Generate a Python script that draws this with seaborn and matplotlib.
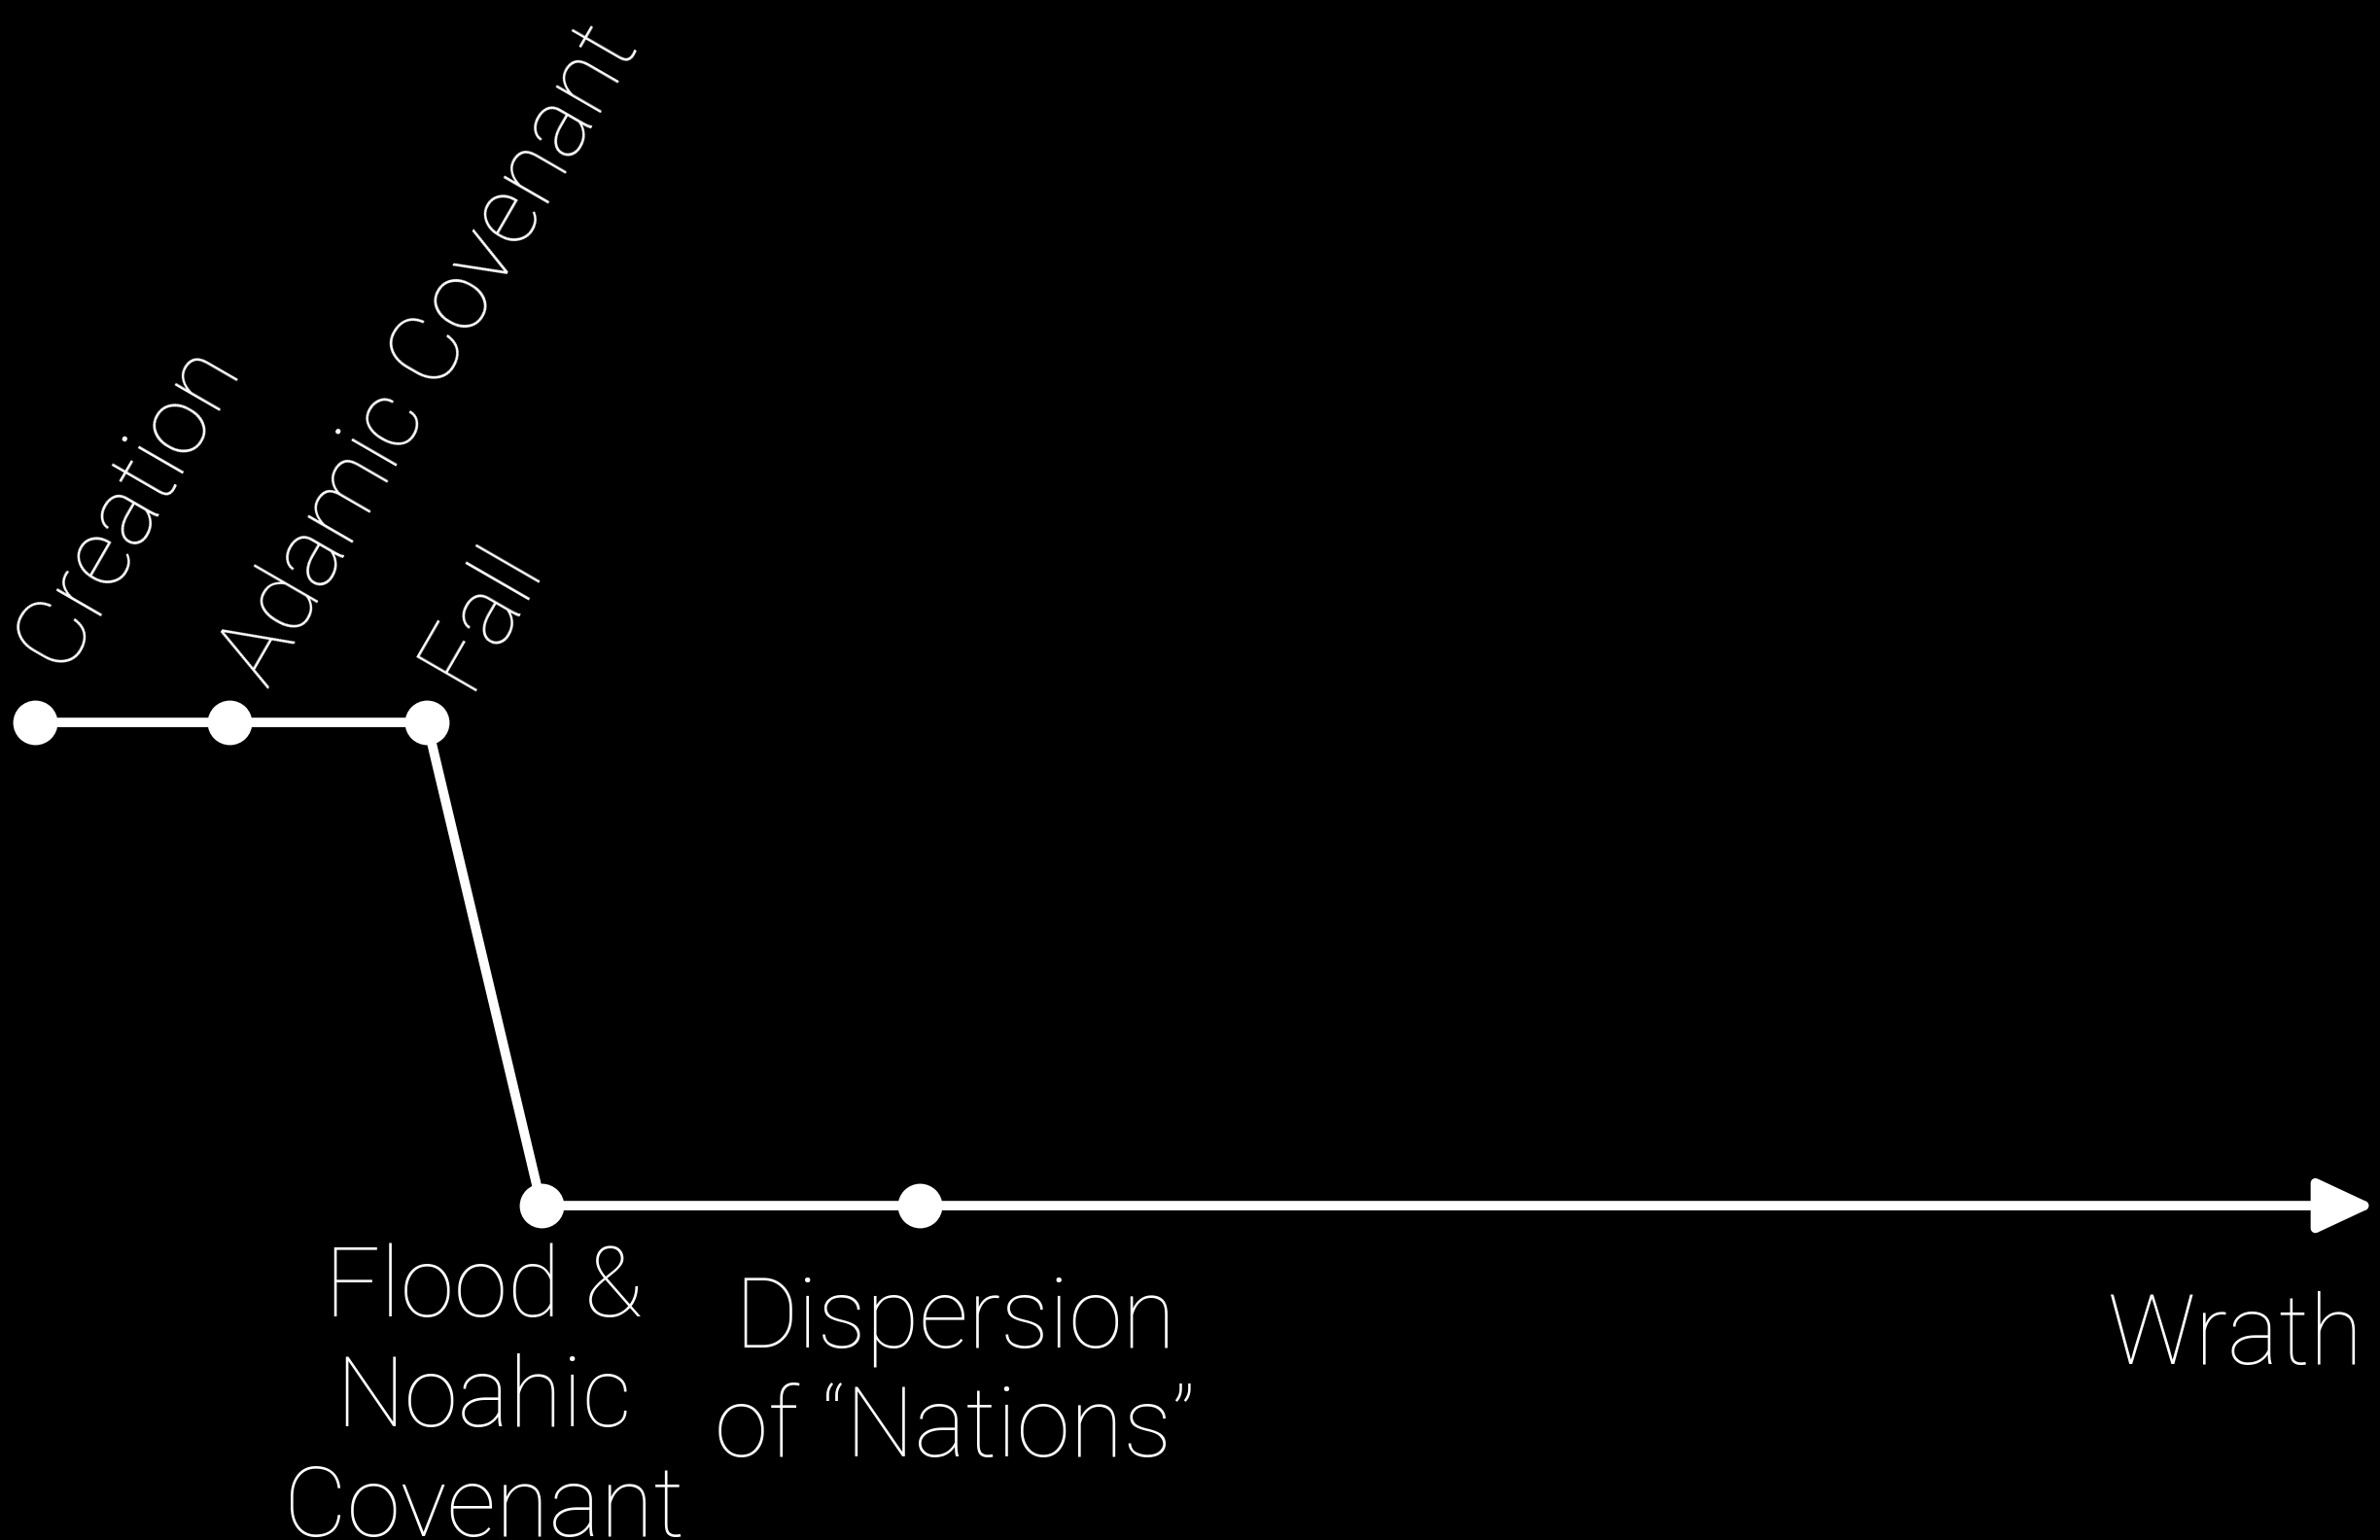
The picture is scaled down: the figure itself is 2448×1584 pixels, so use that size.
import matplotlib
matplotlib.use("Agg")
import matplotlib.pyplot as plt
import seaborn as sns

# timeline events: position along the timeline and level (1 = before the fall, 0 = after)
events = ["Creation", "Adamic Covenant", "Fall", "Flood &\nNoahic\nCovenant", "Dispersion\nof “Nations”"]
x_pos = [0, 1, 2.015, 2.605, 4.55]
level = [1, 1, 1, 0, 0]
end_label = "Wrath"
end_x = 12.035

sns.set_style("dark")
plt.rcParams['font.family'] = ['Roboto', 'DejaVu Sans']

fig = plt.figure(figsize=(24.48, 15.84), dpi=100, facecolor="black")
ax = fig.add_axes([0, 0, 1, 1])
ax.set_facecolor("black")

# arrow from the last event to the end
ax.annotate("", xy=(end_x, level[-1]), xytext=(x_pos[-1], level[-1]),
            arrowprops=dict(arrowstyle="-|>,head_length=0.9,head_width=0.42",
                            mutation_scale=40, lw=7, color="white",
                            shrinkA=0, shrinkB=0))

sns.lineplot(x=x_pos, y=level, sort=False, ax=ax, color="white", linewidth=7,
             marker="o", markersize=33, markeredgewidth=0)

txt = dict(color="white", fontsize=72, fontweight="light")

# rotated labels above the top level
rot_offsets = [(20, 38), (28, 24), (30, 23)]
for name, x, y, off in zip(events[:3], x_pos[:3], level[:3], rot_offsets):
    ax.annotate(name, xy=(x, y), xytext=off, textcoords="offset points",
                rotation=60, rotation_mode="anchor", ha="left", va="baseline", **txt)

# labels below the bottom level
ax.annotate(events[3], xy=(x_pos[3], level[3]), xytext=(-42.5, -28), textcoords="offset points",
            ha="center", va="top", multialignment="center", linespacing=1.22, **txt)
ax.annotate(events[4], xy=(x_pos[4], level[4]), xytext=(26, -50), textcoords="offset points",
            ha="center", va="top", multialignment="center", linespacing=1.22, **txt)
ax.annotate(end_label, xy=(end_x, level[-1]), xytext=(-9, -117), textcoords="offset points",
            ha="right", va="baseline", **txt)

ax.set_xlim(-0.18, 12.06)
ax.set_ylim(-0.692, 2.495)
ax.axis("off")

fig.savefig("out.png", dpi=100, facecolor="black")
